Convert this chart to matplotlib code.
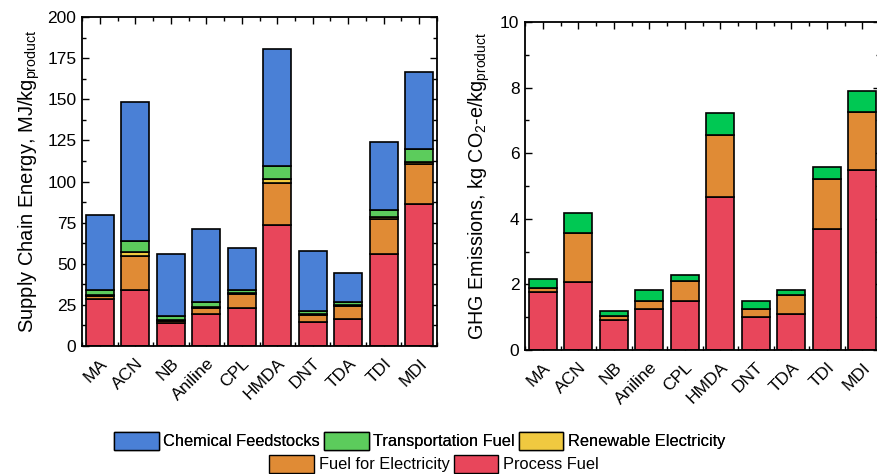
import numpy as np
import matplotlib
matplotlib.use("Agg")
import matplotlib.pyplot as plt
from matplotlib.patches import Patch
from matplotlib.ticker import MultipleLocator

plt.rcParams['font.family'] = ['Liberation Sans', 'DejaVu Sans']
plt.rcParams['mathtext.fontset'] = 'custom'
plt.rcParams['mathtext.rm'] = 'Liberation Sans'
plt.rcParams['mathtext.it'] = 'Liberation Sans:italic'

products = ['MA', 'ACN', 'NB', 'Aniline', 'CPL', 'HMDA', 'DNT', 'TDA', 'TDI', 'MDI']

# supply chain energy, MJ/kg product
energy_process = [28.6, 34.3, 13.8, 19.5, 23.1, 73.5, 14.8, 16.2, 56.2, 86.5]
energy_fuel_elec = [1.9, 20.7, 1.2, 3.6, 8.4, 25.8, 3.9, 8.0, 20.8, 24.2]
energy_renewable = [0.5, 1.9, 0.6, 0.4, 0.8, 2.0, 0.6, 0.8, 1.6, 1.4]
energy_transport = [3.0, 6.7, 2.5, 3.5, 1.8, 8.1, 2.0, 1.6, 4.0, 7.7]
energy_feedstock = [45.7, 85.0, 38.1, 44.1, 25.6, 70.9, 36.4, 17.7, 41.3, 46.9]

# GHG emissions, kg CO2-e/kg product
ghg_process = [1.76, 2.07, 0.90, 1.25, 1.50, 4.65, 1.00, 1.09, 3.69, 5.50]
ghg_fuel_elec = [0.14, 1.50, 0.15, 0.25, 0.59, 1.89, 0.26, 0.58, 1.52, 1.76]
ghg_transport = [0.27, 0.62, 0.15, 0.33, 0.20, 0.68, 0.22, 0.16, 0.37, 0.64]

c_feed = '#4a80d6'
c_trans = '#5ccc5c'
c_trans2 = '#00c853'
c_renew = '#f0c940'
c_felec = '#e08b35'
c_proc = '#e8465b'

W, H = 877, 474
fig = plt.figure(figsize=(W / 100, H / 100), dpi=100)


def frac(x0, y0, x1, y1):
    return [x0 / W, 1 - y1 / H, (x1 - x0) / W, (y1 - y0) / H]


ax1 = fig.add_axes(frac(82, 17, 437, 346))
ax2 = fig.add_axes(frac(525, 22, 880, 350))

x = np.arange(len(products))


def stack(ax, layers):
    bottom = np.zeros(len(x))
    for vals, col in layers:
        vals = np.array(vals)
        ax.bar(x, vals, 0.8, bottom=bottom, color=col, edgecolor='black',
               linewidth=1.2, zorder=2)
        bottom += vals


stack(ax1, [(energy_process, c_proc), (energy_fuel_elec, c_felec),
            (energy_renewable, c_renew), (energy_transport, c_trans),
            (energy_feedstock, c_feed)])
stack(ax2, [(ghg_process, c_proc), (ghg_fuel_elec, c_felec),
            (ghg_transport, c_trans2)])

for ax in (ax1, ax2):
    ax.set_xlim(-0.5, 9.5)
    ax.set_xticks(x)
    ax.set_xticklabels(products, rotation=45, ha='right', rotation_mode='anchor',
                       fontsize=12.5)
    ax.xaxis.set_minor_locator(MultipleLocator(0.5))
    ax.tick_params(which='both', direction='in', top=True, right=True,
                   width=1.0, labelsize=12.5, zorder=3)
    ax.tick_params(which='major', length=5)
    ax.tick_params(which='minor', length=3)
    ax.tick_params(axis='x', pad=7)
    ax.tick_params(axis='y', pad=4)
    for s in ax.spines.values():
        s.set_linewidth(1.3)
        s.set_zorder(4)

ax1.set_ylim(0, 200)
ax1.yaxis.set_major_locator(MultipleLocator(25))
ax1.yaxis.set_minor_locator(MultipleLocator(12.5))
ax1.set_ylabel(r'Supply Chain Energy, MJ/kg$_{\mathrm{product}}$', fontsize=14.5,
               labelpad=4)

ax2.set_ylim(0, 10)
ax2.yaxis.set_major_locator(MultipleLocator(2))
ax2.yaxis.set_minor_locator(MultipleLocator(1))
ax2.set_ylabel(r'GHG Emissions, kg CO$_2$-e/kg$_{\mathrm{product}}$', fontsize=14.2,
               labelpad=6)

legend_kw = dict(frameon=False, fontsize=11.8, handlelength=2.7, handleheight=1.35,
                 handletextpad=0.3, columnspacing=0.25, borderpad=0,
                 borderaxespad=0)
row1 = [Patch(facecolor=c_feed, edgecolor='black', label='Chemical Feedstocks'),
        Patch(facecolor=c_trans, edgecolor='black', label='Transportation Fuel'),
        Patch(facecolor=c_renew, edgecolor='black', label='Renewable Electricity')]
row2 = [Patch(facecolor=c_felec, edgecolor='black', label='Fuel for Electricity'),
        Patch(facecolor=c_proc, edgecolor='black', label='Process Fuel')]
leg1 = fig.legend(handles=row1, ncol=3, loc='center',
                  bbox_to_anchor=(420 / W, 1 - 441 / H), **legend_kw)
fig.add_artist(leg1)
fig.legend(handles=row2, ncol=2, loc='center',
           bbox_to_anchor=(434 / W, 1 - 464 / H), **legend_kw)

fig.savefig('out.png', dpi=100)
